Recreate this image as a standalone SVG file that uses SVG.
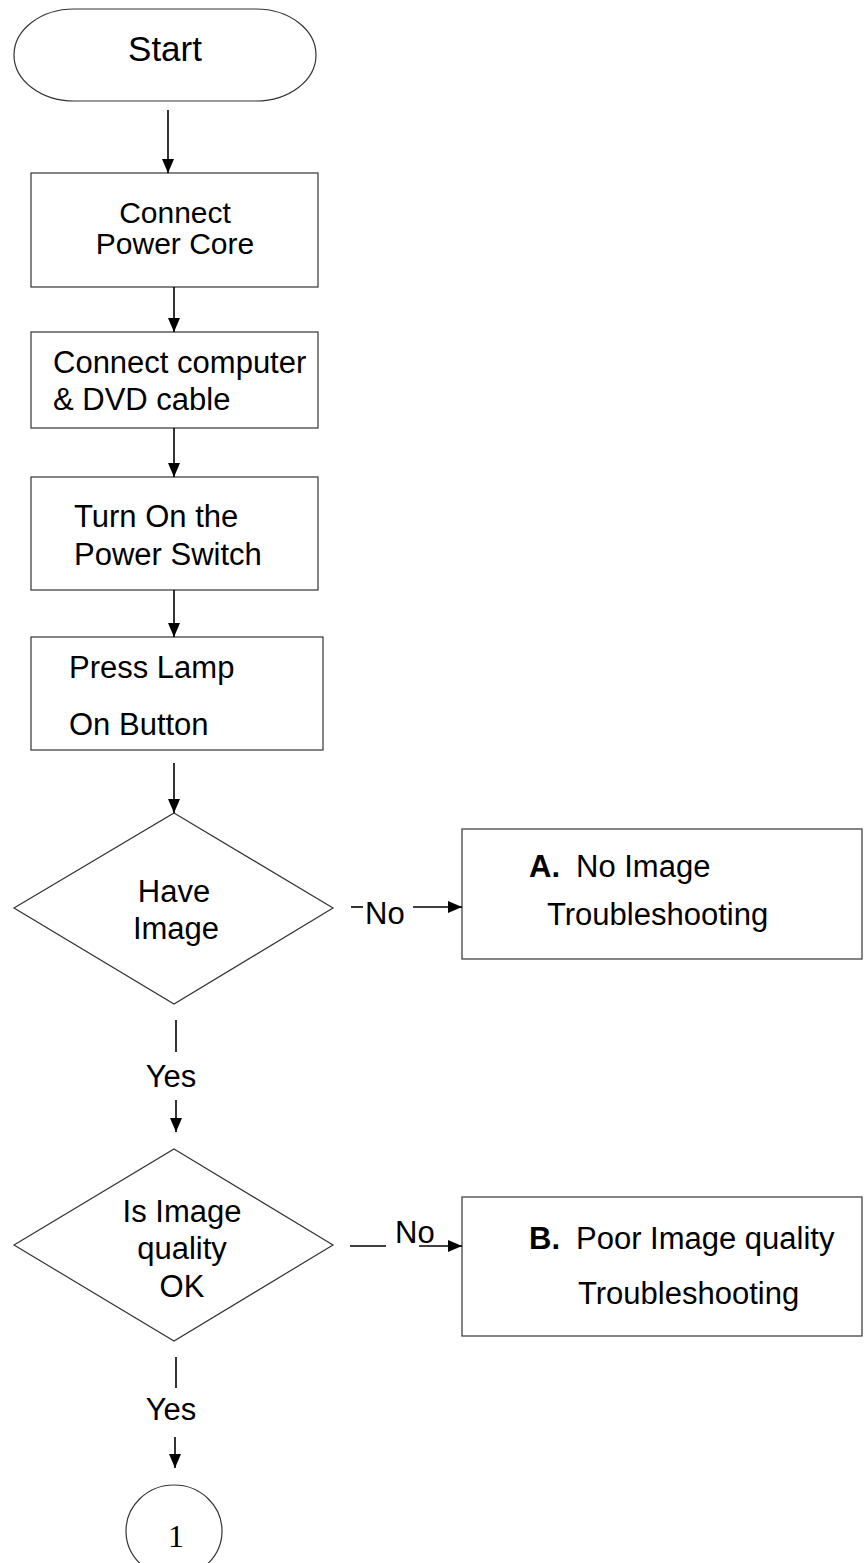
<svg xmlns="http://www.w3.org/2000/svg" width="867" height="1563" viewBox="0 0 867 1563">
<style>
.shape{fill:#fff;stroke:#333;stroke-width:1.2}
.t{font-family:"Liberation Sans",Arial,sans-serif;font-size:31px;fill:#000}
.c{text-anchor:middle}
.b{font-weight:bold}
.ln{stroke:#000;stroke-width:1.6;fill:none}
.arr{stroke:#000;stroke-width:1.6;fill:none;marker-end:url(#ah)}
</style>
<defs>
<marker id="ah" markerUnits="userSpaceOnUse" markerWidth="14" markerHeight="12" refX="14" refY="6" orient="auto">
<path d="M0,0 L14,6 L0,12 z" fill="#000"/>
</marker>
</defs>
<rect width="867" height="1563" fill="#fff"/>
<g id="start">
<rect class="shape" x="14" y="9" width="302" height="92" rx="60" ry="46"/>
<text class="t c" x="165" y="61" style="font-size:35px">Start</text>
</g>
<g id="connect-power">
<rect class="shape" x="31" y="173" width="287" height="114"/>
<text class="t c" x="175" y="223" style="font-size:30px">Connect</text>
<text class="t c" x="175" y="254" style="font-size:30px">Power Core</text>
</g>
<g id="connect-computer">
<rect class="shape" x="31" y="332" width="287" height="96"/>
<text class="t" x="53" y="373">Connect computer</text>
<text class="t" x="53" y="410">&amp; DVD cable</text>
</g>
<g id="turn-on">
<rect class="shape" x="31" y="477" width="287" height="113"/>
<text class="t" x="74" y="527">Turn On the</text>
<text class="t" x="74" y="565">Power Switch</text>
</g>
<g id="press-lamp">
<rect class="shape" x="31" y="637" width="292" height="113"/>
<text class="t" x="69" y="678">Press Lamp</text>
<text class="t" x="69" y="735">On Button</text>
</g>
<g id="have-image">
<polygon class="shape" points="174,813 333,908 174,1004 14,908"/>
<text class="t c" x="174" y="902">Have</text>
<text class="t c" x="176" y="939">Image</text>
</g>
<g id="no-image">
<rect class="shape" x="462" y="829" width="400" height="130"/>
<text class="t" x="529" y="877"><tspan class="b">A.</tspan><tspan x="576">No Image</tspan></text>
<text class="t" x="547" y="925">Troubleshooting</text>
</g>
<g id="image-quality">
<polygon class="shape" points="174,1149 333,1245 174,1341 14,1245"/>
<text class="t c" x="182" y="1222">Is Image</text>
<text class="t c" x="182" y="1259">quality</text>
<text class="t c" x="182" y="1297">OK</text>
</g>
<g id="poor-quality">
<rect class="shape" x="462" y="1197" width="400" height="139"/>
<text class="t" x="529" y="1249"><tspan class="b">B.</tspan><tspan x="576">Poor Image quality</tspan></text>
<text class="t" x="578" y="1304">Troubleshooting</text>
</g>
<g id="connector-1">
<ellipse class="shape" cx="174" cy="1531" rx="48" ry="46"/>
<text x="176" y="1547" text-anchor="middle" style="font-family:'Liberation Serif','Times New Roman',serif;font-size:32px">1</text>
</g>
<g id="connectors">
<line class="arr" x1="168" y1="110" x2="168" y2="173"/>
<line class="arr" x1="174" y1="287" x2="174" y2="332"/>
<line class="arr" x1="174" y1="428" x2="174" y2="477"/>
<line class="arr" x1="174" y1="590" x2="174" y2="637"/>
<line class="arr" x1="174" y1="763" x2="174" y2="813"/>
<line class="ln" x1="351" y1="907" x2="363" y2="907"/>
<text class="t" x="365" y="924">No</text>
<line class="arr" x1="413" y1="907" x2="462" y2="907"/>
<line class="ln" x1="176" y1="1020" x2="176" y2="1052"/>
<text class="t c" x="171" y="1087">Yes</text>
<line class="arr" x1="176" y1="1100" x2="176" y2="1132"/>
<line class="ln" x1="350" y1="1246" x2="386" y2="1246"/>
<text class="t" x="395" y="1243">No</text>
<line class="arr" x1="419" y1="1246" x2="462" y2="1246"/>
<line class="ln" x1="176" y1="1357" x2="176" y2="1388"/>
<text class="t c" x="171" y="1420">Yes</text>
<line class="arr" x1="175" y1="1437" x2="175" y2="1468"/>
</g>
</svg>
